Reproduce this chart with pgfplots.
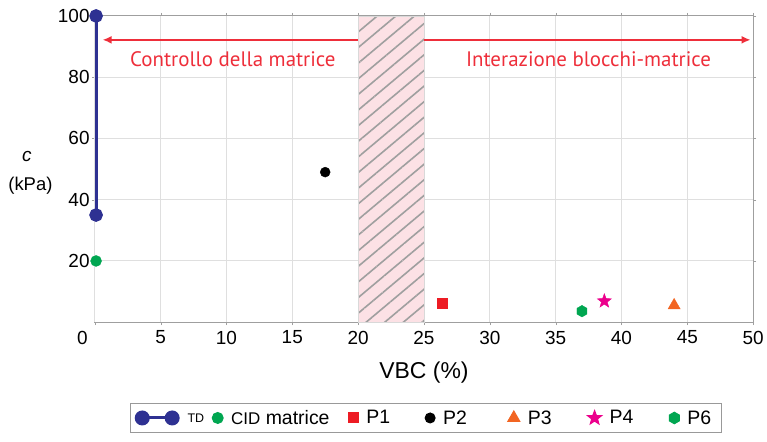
\documentclass[border=0pt]{standalone}
\usepackage{pgfplots}
\pgfplotsset{compat=1.18}
\usepackage{fontspec}
\setmainfont{Liberation Sans}
\newfontfamily\myriad{PT Sans}
\usetikzlibrary{patterns.meta,arrows.meta}
\definecolor{tdblue}{HTML}{2E3192}
\definecolor{cidgreen}{HTML}{00A651}
\definecolor{p1red}{HTML}{ED1C24}
\definecolor{p3orange}{HTML}{F26522}
\definecolor{p4mag}{HTML}{EC008C}
\definecolor{arrred}{HTML}{EE2E3A}
\definecolor{hatchpink}{HTML}{FCE1E5}

\pgfdeclareplotmark{hexagon}{%
 \pgfpathmoveto{\pgfpointpolar{90}{\pgfplotmarksize}}%
 \pgfpathlineto{\pgfpointpolar{150}{\pgfplotmarksize}}%
 \pgfpathlineto{\pgfpointpolar{210}{\pgfplotmarksize}}%
 \pgfpathlineto{\pgfpointpolar{270}{\pgfplotmarksize}}%
 \pgfpathlineto{\pgfpointpolar{330}{\pgfplotmarksize}}%
 \pgfpathlineto{\pgfpointpolar{30}{\pgfplotmarksize}}%
 \pgfpathclose\pgfusepathqfillstroke}
\pgfdeclareplotmark{fstar}{%
 \pgfpathmoveto{\pgfpointpolar{90}{1.2\pgfplotmarksize}}%
 \pgfpathlineto{\pgfpointpolar{126}{0.5\pgfplotmarksize}}%
 \pgfpathlineto{\pgfpointpolar{162}{1.2\pgfplotmarksize}}%
 \pgfpathlineto{\pgfpointpolar{198}{0.5\pgfplotmarksize}}%
 \pgfpathlineto{\pgfpointpolar{234}{1.2\pgfplotmarksize}}%
 \pgfpathlineto{\pgfpointpolar{270}{0.5\pgfplotmarksize}}%
 \pgfpathlineto{\pgfpointpolar{306}{1.2\pgfplotmarksize}}%
 \pgfpathlineto{\pgfpointpolar{342}{0.5\pgfplotmarksize}}%
 \pgfpathlineto{\pgfpointpolar{18}{1.2\pgfplotmarksize}}%
 \pgfpathlineto{\pgfpointpolar{54}{0.5\pgfplotmarksize}}%
 \pgfpathclose\pgfusepathqfillstroke}

\pgfplotsset{ptleg/.style={legend image code/.code={\path[##1] plot coordinates {(0bp,0bp)};}}}
\newcommand{\gap}[1]{\rule{#1}{0bp}}

\begin{document}
\begin{tikzpicture}[font=\fontsize{19bp}{21bp}\selectfont]
\begin{axis}[
 scale only axis, width=660bp, height=307bp,
 xmin=0, xmax=50, ymin=0, ymax=100,
 xtick={5,10,...,50}, ytick={20,40,60,80,100},
 extra x ticks={0}, extra x tick labels={},
 /pgf/number format/assume math mode=true,
 grid=major, grid style={gray!25, line width=1bp},
 axis line style={gray!75, line width=1bp},
 tick style={gray!75},
 tick align=outside, major tick length=3bp,
 xticklabel style={inner ysep=5.5bp},
 yticklabel style={inner xsep=2bp},
 clip mode=individual,
 xlabel={VBC (\%)},
 xlabel style={font=\fontsize{23bp}{25bp}\selectfont, at={(axis description cs:0.5,-0.166)}, anchor=center},
 legend style={at={(axis description cs:0.503,-0.3127)}, anchor=center, legend columns=-1,
   draw=gray!80, line width=1bp, font=\fontsize{19.5bp}{21bp}\selectfont,
   inner xsep=4bp, inner ysep=5bp,
   /tikz/every odd column/.append style={column sep=6bp},
   /tikz/every even column/.append style={column sep=0bp}},
]
% hatched band
\addplot[forget plot, fill=hatchpink, draw=gray!30, postaction={pattern={Lines[angle=40,distance=12bp,line width=1.6bp]}, pattern color=gray!75}]
 coordinates {(20,0) (25,0) (25,100) (20,100)} -- cycle;
% arrows and texts
\draw[arrred, line width=1.6bp, -{Latex[length=9bp,width=8bp]}] (axis cs:20,92.2) -- (axis cs:0.6,92.2);
\draw[arrred, line width=1.6bp, -{Latex[length=9bp,width=8bp]}] (axis cs:25,92.2) -- (axis cs:49.8,92.2);
\node[arrred, font=\myriad\fontsize{21bp}{22bp}\selectfont] at (axis cs:10.49,86) {Controllo della matrice};
\node[arrred, font=\myriad\fontsize{21bp}{22bp}\selectfont] at (axis cs:37.5,86) {Interazione blocchi-matrice};
% tick label 0 and y label
\node[anchor=center] at (axis description cs:0,0) [shift={(-12.5bp,-16bp)}] {0};
\node[anchor=center, font=\fontsize{19bp}{20bp}\selectfont\itshape] at (axis description cs:0,1) [shift={(-68bp,-141bp)}] {c};
\node[anchor=center, font=\fontsize{18.5bp}{20bp}\selectfont] at (axis description cs:0,1) [shift={(-64.5bp,-170bp)}] {(kPa)};
% data
\addplot[tdblue, line width=3bp, mark=*, mark size=5.3bp,
  legend image code/.code={\draw[tdblue, line width=3bp] (0bp,0bp) -- (30bp,0bp); \fill[tdblue] (0bp,0bp) circle (6bp); \fill[tdblue] (30bp,0bp) circle (6bp);}]
 coordinates {(0.1,100) (0.1,35)};
\addlegendentry{\raisebox{-1bp}{\fontsize{12.5bp}{14bp}\selectfont TD}\gap{6bp}}
\addplot[cidgreen, mark=*, mark size=5.5bp, ptleg] coordinates {(0.1,20)};
\addlegendentry{{\fontsize{17bp}{19bp}\selectfont CID} matrice\gap{17bp}}
\addplot[p1red, mark=square*, mark size=5bp, ptleg] coordinates {(26.4,6.2)};
\addlegendentry{P1\gap{33bp}}
\addplot[black, mark=*, mark size=5bp, ptleg] coordinates {(17.5,49)};
\addlegendentry{P2\gap{39bp}}
\addplot[p3orange, mark=triangle*, mark size=7bp, ptleg] coordinates {(44,5.5)};
\addlegendentry{P3\gap{34bp}}
\addplot[p4mag, mark=fstar, mark size=6.2bp, ptleg] coordinates {(38.7,6.9)};
\addlegendentry{P4\gap{34bp}}
\addplot[cidgreen, mark=hexagon, mark size=5.8bp, ptleg] coordinates {(37,3.6)};
\addlegendentry{P6\gap{4bp}}
\coordinate (bl) at (axis description cs:-0.14394,-0.39088);
\coordinate (tr) at (axis description cs:1.01818,1.05212);
\end{axis}
\path (bl) rectangle (tr);
\end{tikzpicture}
\end{document}
